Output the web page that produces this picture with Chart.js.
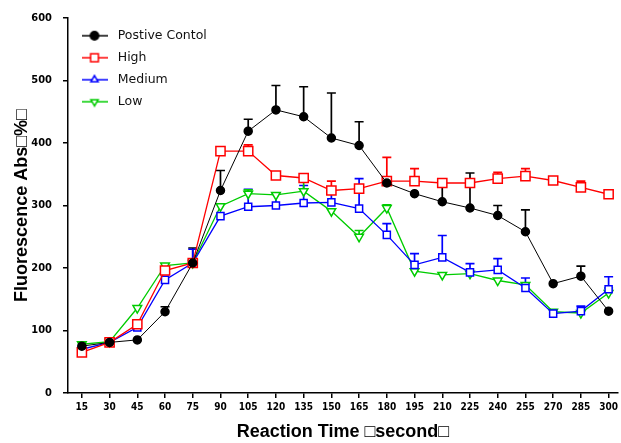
<!DOCTYPE html>
<html><head><meta charset="utf-8">
<script src="https://cdn.jsdelivr.net/npm/chart.js@4.4.0/dist/chart.umd.min.js"></script>
<style>html,body{margin:0;padding:0;background:#fff;}#wrap{width:621px;height:443px;position:relative;}</style>
</head><body><div id="wrap"><canvas id="c"></canvas></div>
<script>
const times = [15,30,45,60,75,90,105,120,135,150,165,180,195,210,225,240,255,270,285,300];
const seriesNames = ['Postive Contol','High','Medium','Low'];
const positiveControl = [75,81,85,130,208,324,419,453,442,408,396,336,319,306,296,284,258,175,187,131];
const high = [65,81,110,196,208,387,387,348,344,324,327,339,339,336,336,343,347,340,329,318];
const medium = [70,81,105,181,208,283,298,300,304,305,295,253,205,217,193,197,168,127,131,166];
const low = [78,82,136,204,208,299,319,317,323,291,250,296,195,189,191,180,173,130,128,160];
// upper error (SD) read from the whiskers
const positiveControlErr = [0,0,0,8,24,32,19,39,48,72,38,0,0,28,56,16,35,0,16,0];
const highErr = [0,0,6,0,0,0,10,0,0,15,0,38,20,0,0,10,12,4,10,7];
const mediumErr = [0,0,12,0,22,0,28,18,28,15,48,18,18,35,14,18,16,0,8,20];
const lowErr = [0,0,0,0,0,0,6,0,24,0,10,5,0,0,0,0,0,0,0,8];
const yTicks = [0,100,200,300,400,500,600];
const xTitle = 'Reaction Time \u25A1second\u25A1';
const yTitle = 'Fluorescence Abs\u25A1%\u25A1';

const colors = ['#000000','#ff0000','#0000ff','#00cc00'];
const values = [positiveControl, high, medium, low];
const errs = [positiveControlErr, highErr, mediumErr, lowErr];
const styles = [
  {pointStyle:'circle', radius:4, fill:true, rotation:0, legendStyle:'circle'},
  {pointStyle:'rect', radius:6.5, fill:false, rotation:0, legendStyle:'rect'},
  {pointStyle:'rect', radius:5, fill:false, rotation:0, legendStyle:'triangle'},
  {pointStyle:'triangle', radius:5, fill:false, rotation:180, legendStyle:'triangle'}
];

function legendIcon(i){
  const c = document.createElement('canvas'); c.width = 26; c.height = 12;
  const g = c.getContext('2d');
  g.strokeStyle = colors[i]; g.lineWidth = 1.5;
  g.beginPath(); g.moveTo(0,6); g.lineTo(26,6); g.stroke();
  g.fillStyle = styles[i].fill ? colors[i] : '#ffffff';
  Chart.helpers.drawPoint(g, {pointStyle: styles[i].legendStyle, radius: i===1?5.5:4.2, borderWidth:1.4, rotation: styles[i].rotation}, 13, 6);
  return c;
}

const errorBars = {
  id: 'errorBars',
  beforeDatasetsDraw(chart){
    const ctx = chart.ctx, xs = chart.scales.x, ys = chart.scales.y;
    chart.data.datasets.forEach((ds, i) => {
      ctx.save();
      ctx.strokeStyle = ds.borderColor; ctx.lineWidth = 1.7;
      ds.errors.forEach((e, j) => {
        if (!e) return;
        const px = xs.getPixelForValue(times[j]);
        const y0 = ys.getPixelForValue(values[i][j]);
        const y1 = ys.getPixelForValue(values[i][j] + e);
        ctx.beginPath();
        ctx.moveTo(px, y0); ctx.lineTo(px, y1);
        ctx.moveTo(px - 4.5, y1); ctx.lineTo(px + 4.5, y1);
        ctx.stroke();
      });
      ctx.restore();
    });
  }
};

const datasets = seriesNames.map((name, i) => ({
  label: name,
  data: times.map((t, j) => ({x: t, y: values[i][j]})),
  errors: errs[i],
  borderColor: colors[i],
  backgroundColor: colors[i],
  borderWidth: i === 0 ? 1 : 1.3,
  pointStyle: styles[i].pointStyle,
  pointRadius: styles[i].radius,
  pointRotation: styles[i].rotation,
  pointBorderWidth: 1.5,
  pointBackgroundColor: styles[i].fill ? colors[i] : '#ffffff',
  pointBorderColor: colors[i],
  tension: 0
}));

const tickFont = {family: "'Liberation Sans Narrow','DejaVu Sans Condensed','Liberation Sans',sans-serif", weight: 'bold'};

new Chart(document.getElementById('c'), {
  type: 'line',
  data: {datasets},
  plugins: [errorBars],
  options: {
    responsive: true, maintainAspectRatio: false, animation: false,
    layout: {padding: {top: 18, right: 0, left: 0, bottom: 0}, autoPadding: false},
    plugins: {
      tooltip: {enabled: false},
      legend: {
        position: 'chartArea', align: 'start',
        title: {display: true, text: ' ', padding: 9.4, font: {size: 1}},
        labels: {
          usePointStyle: true, pointStyleWidth: 34, padding: 9.5, color: '#111',
          font: {family: "'DejaVu Sans',sans-serif", size: 12.5},
          generateLabels: (chart) => chart.data.datasets.map((ds, i) => ({
            text: ds.label, pointStyle: legendIcon(i), datasetIndex: i, hidden: false,
            fontColor: '#111', lineWidth: 0, strokeStyle: colors[i], fillStyle: colors[i]
          }))
        }
      }
    },
    scales: {
      x: {
        type: 'linear', min: 7.5, max: 305,
        afterBuildTicks: (s) => { s.ticks = times.map(v => ({value: v})); },
        afterFit: (s) => { s.height = 50; },
        ticks: {autoSkip: false, maxRotation: 0, color: '#000', padding: 3,
          font: {...tickFont, size: 10}, callback: (v) => String(v)},
        grid: {display: true, drawOnChartArea: false, drawTicks: true, tickLength: 5, color: '#000', lineWidth: 1.5},
        border: {display: true, color: '#000', width: 1.5},
        title: {display: true, text: xTitle, color: '#000', padding: {top: 0, bottom: 0},
          font: {family: "'Liberation Sans',Arial,sans-serif", weight: 'bold', size: 18}}
      },
      y: {
        min: 0, max: 600,
        afterBuildTicks: (s) => { s.ticks = yTicks.map(v => ({value: v})); },
        afterFit: (s) => { s.width = 68; },
        ticks: {color: '#000', padding: 11, font: {...tickFont, size: 11}},
        grid: {display: true, drawOnChartArea: false, drawTicks: true, tickLength: 5, color: '#000', lineWidth: 1.5},
        border: {display: true, color: '#000', width: 1.5},
        title: {display: true, text: yTitle, color: '#000', padding: {top: 11, bottom: 0},
          font: {family: "'Liberation Sans',Arial,sans-serif", weight: 'bold', size: 18}}
      }
    }
  }
});
</script></body></html>
